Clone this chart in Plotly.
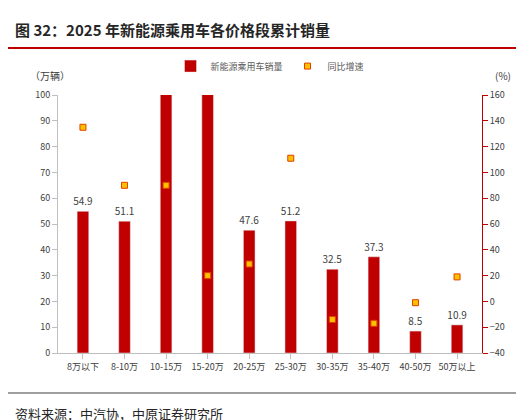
import plotly.graph_objects as go

categories = ["8万以下","8-10万","10-15万","15-20万","20-25万","25-30万","30-35万","35-40万","40-50万","50万以上"]
sales = [54.9, 51.1, 130, 115, 47.6, 51.2, 32.5, 37.3, 8.5, 10.9]
sales_labels = ["54.9","51.1","","","47.6","51.2","32.5","37.3","8.5","10.9"]
growth = [135, 90, 90, 20, 29, 111, -14, -17, -1, 19]

font = "Noto Sans CJK SC"
fig = go.Figure()
fig.add_bar(x=categories, y=sales, name="新能源乘用车销量", marker_color="#C00000",
            width=0.28, text=sales_labels, textposition="outside",
            textfont=dict(size=10, color="#404040"), cliponaxis=True)
fig.add_scatter(x=categories, y=growth, name="同比增速", mode="markers", yaxis="y2",
                marker=dict(symbol="square", size=6, color="#FFC000", line=dict(color="#E04000", width=1)))
fig.update_layout(
    width=524, height=420, margin=dict(l=50, r=50, t=87, b=75, autoexpand=False),
    plot_bgcolor="white", paper_bgcolor="white",
    font=dict(family=font, size=9, color="#404040"),
    uniformtext=dict(minsize=10, mode="show"),
    showlegend=True,
    legend=dict(orientation="h", x=0.5, xanchor="center", y=1.112, yanchor="middle",
                font=dict(size=9, color="#595959")),
    xaxis=dict(showline=True, linecolor="#BFBFBF", ticks="outside", tickcolor="#BFBFBF",
               tickfont=dict(size=9, color="#404040")),
    yaxis=dict(range=[0, 100], dtick=10, showgrid=False, showline=True, linecolor="#BFBFBF",
               ticks="outside", tickcolor="#BFBFBF", tickfont=dict(size=9, color="#404040")),
    yaxis2=dict(range=[-40, 160], dtick=20, overlaying="y", side="right", showgrid=False,
                showline=True, linecolor="#C00000", ticks="outside", tickcolor="#C00000",
                tickfont=dict(size=9, color="#404040"), zeroline=False),
    shapes=[
        dict(type="line", xref="paper", yref="paper", x0=-0.118, x1=1.118, y0=1.182, y1=1.182,
             line=dict(color="#C00000", width=2)),
        dict(type="line", xref="paper", yref="paper", x0=-0.118, x1=1.118, y0=-0.155, y1=-0.155,
             line=dict(color="#404040", width=1)),
    ],
)
fig.add_annotation(text="<b>图 32：2025 年新能源乘用车各价格段累计销量</b>", xref="paper", yref="paper",
                   x=-0.106, y=1.252, xanchor="left", yanchor="middle", showarrow=False,
                   font=dict(size=15, color="#262626", family=font))
fig.add_annotation(text="（万辆）", xref="paper", yref="paper", x=-0.02, y=1.074, xanchor="center",
                   yanchor="middle", showarrow=False, font=dict(size=10, color="#404040"))
fig.add_annotation(text="(%)", xref="paper", yref="paper", x=1.05, y=1.074, xanchor="center",
                   yanchor="middle", showarrow=False, font=dict(size=10, color="#404040"))
fig.add_annotation(text="资料来源：中汽协，中原证券研究所", xref="paper", yref="paper", x=-0.106, y=-0.233,
                   xanchor="left", yanchor="middle", showarrow=False, font=dict(size=13, color="#262626"))
fig.write_html("out.html")
